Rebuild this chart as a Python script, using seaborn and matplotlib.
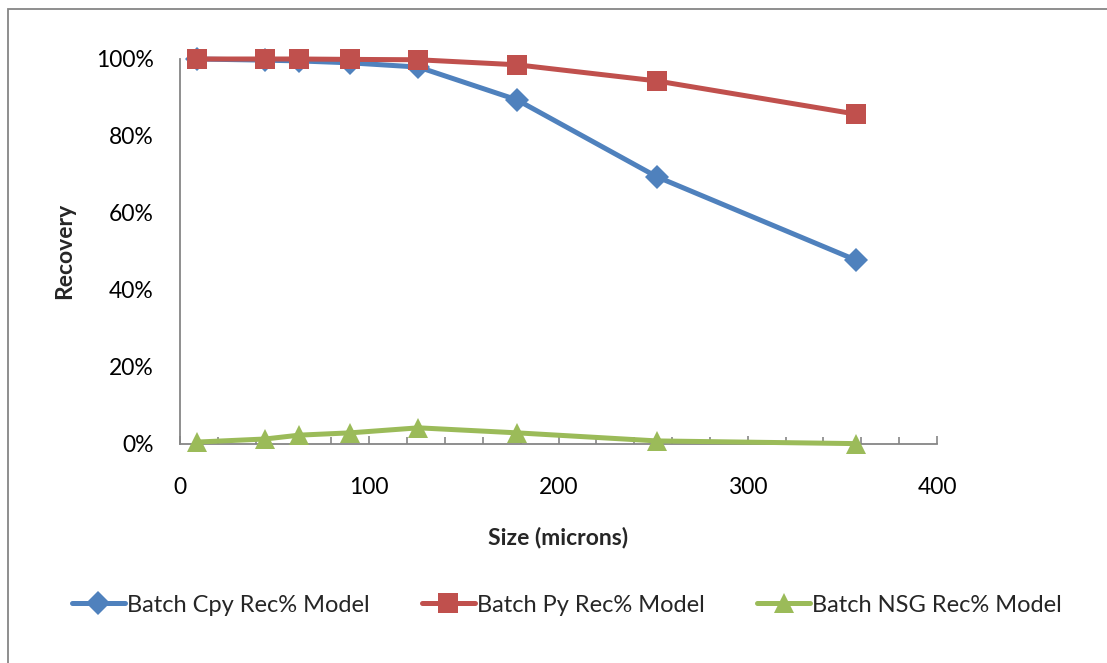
import matplotlib
matplotlib.use("Agg")
import matplotlib.pyplot as plt
from matplotlib.lines import Line2D
from matplotlib.patches import Rectangle
from matplotlib.ticker import MultipleLocator, PercentFormatter
import seaborn as sns
import pandas as pd

# ---- data ----
sizes = [9, 45, 63, 90, 126, 178, 252, 357]
cpy_rec = [1.000, 0.997, 0.995, 0.990, 0.979, 0.894, 0.694, 0.478]
py_rec = [1.000, 1.000, 1.000, 0.999, 0.998, 0.985, 0.943, 0.857]
nsg_rec = [0.005, 0.013, 0.023, 0.029, 0.042, 0.029, 0.008, 0.001]
series_names = ["Batch Cpy Rec% Model", "Batch Py Rec% Model", "Batch NSG Rec% Model"]
x_label = "Size (microns)"
y_label = "Recovery"

colors = ["#4F81BD", "#C0504D", "#9BBB59"]
markers = ["D", "s", "^"]
msizes = [12, 14, 14]

rows = []
for name, vals in zip(series_names, [cpy_rec, py_rec, nsg_rec]):
    for s, v in zip(sizes, vals):
        rows.append({"size": s, "rec": v, "series": name})
df = pd.DataFrame(rows)

sns.set_style("white")
plt.rcParams["font.family"] = ["Lato", "DejaVu Sans"]

fig = plt.figure(figsize=(11.07, 6.63), dpi=100)
ax = fig.add_axes([180 / 1107, 1 - 444 / 663, (937 - 180) / 1107, (444 - 59) / 663])

for name, c, m, ms in zip(series_names, colors, markers, msizes):
    sub = df[df["series"] == name]
    sns.lineplot(data=sub, x="size", y="rec", ax=ax, color=c, marker=m,
                 markersize=ms, markeredgewidth=0, linewidth=3.6,
                 legend=False, clip_on=False, zorder=3)

ax.set_xlim(0, 400)
ax.set_ylim(0, 1)
ax.xaxis.set_major_locator(MultipleLocator(100))
ax.xaxis.set_minor_locator(MultipleLocator(20))
ax.yaxis.set_major_locator(MultipleLocator(0.2))
ax.yaxis.set_major_formatter(PercentFormatter(1.0, decimals=0))
ax.set_xlabel("")
ax.set_ylabel("")

for side in ["top", "right"]:
    ax.spines[side].set_visible(False)
for side in ["left", "bottom"]:
    ax.spines[side].set_color("#868686")
    ax.spines[side].set_linewidth(1.3)

ax.tick_params(axis="x", which="both", direction="in", color="#868686",
               width=1.2, labelsize=16.5, pad=24, bottom=True, labelcolor="black")
ax.tick_params(axis="x", which="major", length=6)
ax.tick_params(axis="x", which="minor", length=5)
ax.tick_params(axis="y", length=0, labelsize=16.5, pad=19, labelcolor="black")

fig.text(65 / 1107, 1 - 251 / 663, y_label, rotation=90, ha="center", va="center",
         fontsize=16.5, fontweight="bold")
fig.text(558 / 1107, 1 - 537 / 663, x_label, ha="center", va="center",
         fontsize=16.5, fontweight="bold")

handles = [Line2D([0], [0], color=c, marker=m, markersize=ms, markeredgewidth=0, linewidth=3.6)
           for c, m, ms in zip(colors, markers, msizes)]
fig.legend(handles, series_names, loc="center", bbox_to_anchor=(567 / 1107, 1 - 605 / 663),
           ncol=3, frameon=False, fontsize=17, handlelength=2.25, handletextpad=0.1,
           columnspacing=2.2)

fig.patches.append(Rectangle((8 / 1107, -0.1), 1.2, 1 - 9 / 663 + 0.1, transform=fig.transFigure,
                             fill=False, edgecolor="#868686", linewidth=1.3))

fig.savefig("out.png", dpi=100)
